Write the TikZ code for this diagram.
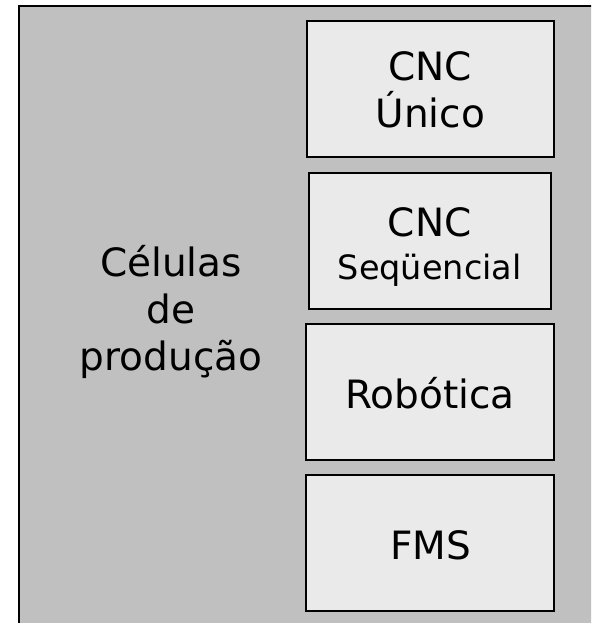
\documentclass[tikz,border=0pt]{standalone}
\usepackage{fontspec}
\setmainfont{DejaVu Sans}
\definecolor{outergray}{HTML}{C0C0C0}
\definecolor{cellfill}{HTML}{EAEAEA}
\newcommand\bigtxt{\fontsize{39}{47}\selectfont}
\newcommand\smalltxt{\fontsize{33.5}{40}\selectfont}
\begin{document}
\begin{tikzpicture}[x=1pt,y=-1pt,
  cellbox/.style={draw=black, fill=cellfill, line width=2pt, inner sep=0pt},
  lbl/.style={anchor=base, inner sep=0pt, font=\bigtxt},
  slbl/.style={anchor=base, inner sep=0pt, font=\smalltxt}]
\useasboundingbox (0,0) rectangle (591,623);
\clip (0,0) rectangle (591,623);
\path[fill=outergray, draw=black, line width=2pt] (19,6) rectangle (620,650);
% boxes
\node[cellbox, minimum width=247.3pt, minimum height=136pt] (b1) at (430.35,89) {};
\node[cellbox, minimum width=242.5pt, minimum height=136.2pt] (b2) at (429.75,240.9) {};
\node[cellbox, minimum width=248pt, minimum height=136pt] (b3) at (430,392) {};
\node[cellbox, minimum width=248pt, minimum height=136pt] (b4) at (430,543) {};
% texts
\node[lbl] (t1a) at (430.3,81) {CNC};
\node[lbl] (t1b) at (430.3,127.7) {Único};
\node[lbl] (t2a) at (429.7,236) {CNC};
\node[slbl] (t2b) at (429.7,279) {Seqüencial};
\node[lbl] (t3) at (430,408) {Robótica};
\node[lbl] (t4) at (430.7,559) {FMS};
\node[lbl] (l1) at (171,276) {Células};
\node[lbl] (l2) at (171,323) {de};
\node[lbl] (l3) at (171,370) {produção};
\end{tikzpicture}
\end{document}
